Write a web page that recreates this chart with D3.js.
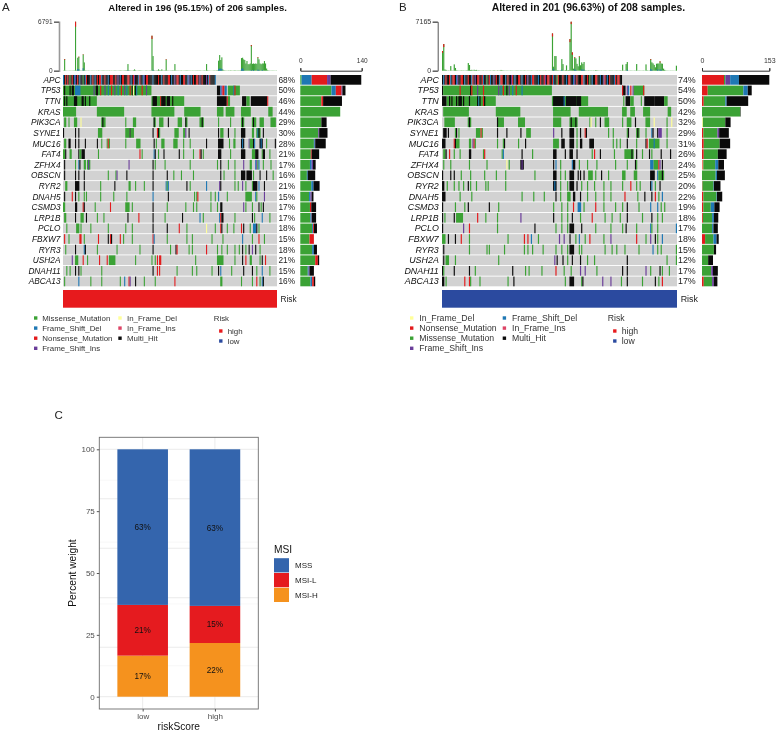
<!DOCTYPE html>
<html>
<head>
<meta charset="utf-8">
<script src="https://cdn.jsdelivr.net/npm/d3@7/dist/d3.min.js"></script>
<style>
  html, body { margin: 0; padding: 0; background: #fff; }
  svg { display: block; font-family: "Liberation Sans", Arial, sans-serif; filter: blur(0.35px); }
</style>
</head>
<body>
<div id="chart"></div>
<script>
// Gene rows, same order in both oncoplots
const genes = ["APC", "TP53", "TTN", "KRAS", "PIK3CA", "SYNE1", "MUC16", "FAT4", "ZFHX4", "OBSCN",
               "RYR2", "DNAH5", "CSMD3", "LRP1B", "PCLO", "FBXW7", "RYR3", "USH2A", "DNAH11", "ABCA13"];

const pctA = [68, 50, 46, 44, 29, 30, 28, 21, 17, 16, 21, 15, 17, 17, 18, 15, 18, 21, 15, 16];
const pctB = [74, 54, 50, 42, 32, 29, 31, 26, 24, 25, 20, 22, 19, 18, 17, 18, 15, 12, 17, 17];

// Mutation burden per sample (top bars)
const topA = [
  30, 1620, 40, 20, 15, 25, 30, 20, 25, 30, 40, 6791, 60, 1800, 1940, 50, 30, 40, 2260, 1150,
  40, 30, 25, 35, 20, 15, 30, 20, 25, 15, 30, 20, 40, 25, 20, 30, 35, 40, 25, 30,
  30, 25, 35, 20, 30, 15, 25, 40, 30, 20, 25, 30, 45, 35, 25, 30, 40, 50, 60, 920,
  60, 40, 30, 25, 60, 180, 60, 25, 30, 45, 50, 35, 25, 20, 15, 30, 35, 25, 20, 30,
  40, 4850, 2030, 60, 30, 40, 45, 185, 60, 50, 180, 40, 30, 60, 1570, 40, 30, 20, 30, 35,
  50, 40, 920, 40, 30, 35, 25, 30, 40, 20, 25, 30, 40, 50, 35, 25, 30, 20, 30, 25,
  25, 30, 35, 40, 30, 45, 25, 20, 30, 40, 30, 920, 60, 30, 25, 20, 15, 30, 40, 25,
  50, 60, 1390, 2170, 1480, 1850, 150, 60, 40, 30, 25, 40, 30, 50, 35, 25, 40, 60, 30, 35,
  40, 35, 50, 1750, 1800, 1570, 1480, 1000, 1340, 900, 900, 1000, 3550, 950, 1000, 950, 1000, 950, 1850, 1570,
  1000, 900, 1000, 1000, 1340, 1000, 300, 80, 40, 30, 20, 35, 30, 25, 20, 30
];
const topB = [
  2870, 3900, 180, 120, 30, 40, 25, 680, 40, 30, 925, 400, 60, 40, 25, 30, 50, 35, 40, 25,
  40, 60, 1120, 830, 100, 130, 60, 140, 90, 120, 40, 60, 30, 25, 30, 40, 20, 35, 30, 25,
  30, 40, 20, 35, 60, 30, 25, 50, 30, 40, 110, 60, 40, 30, 25, 35, 30, 20, 40, 30,
  30, 20, 25, 40, 35, 30, 20, 45, 25, 30, 40, 30, 20, 35, 25, 30, 40, 30, 20, 25,
  30, 40, 25, 35, 30, 20, 30, 25, 40, 30, 20, 35, 25, 30, 5450, 585, 2140, 2140, 80, 60,
  40, 60, 1700, 970, 40, 80, 780, 60, 100, 4630, 7165, 2680, 300, 1950, 1800, 1000, 650, 2090, 800, 1220,
  1000, 1270, 60, 40, 30, 60, 30, 50, 25, 40, 30, 90, 60, 40, 30, 25, 35, 20, 30, 40,
  30, 20, 25, 40, 30, 35, 20, 25, 30, 40, 30, 25, 50, 30, 880, 30, 40, 970, 1270, 30,
  25, 40, 30, 20, 35, 30, 970, 25, 40, 30, 25, 30, 40, 20, 925, 60, 30, 40, 1700, 1220,
  1070, 850, 500, 1020, 1050, 1050, 1360, 1050, 1020, 300, 120, 40, 30, 25, 20, 30, 25, 30, 20, 25, 730
];
// [sample, count] parts of the top bars that are not missense
const topNonsenseA = [[1, 100], [11, 700], [14, 80], [18, 60], [81, 460], [94, 80], [172, 150], [178, 90]];
const topFrameDelA = [[13, 250], [14, 200], [18, 350], [59, 80], [82, 120], [142, 200], [143, 300], [144, 300], [145, 250], [163, 200], [164, 350], [165, 150], [172, 100], [174, 120], [178, 150], [179, 120], [182, 120]];
const topNonsenseB = [[0, 250], [1, 450], [94, 450], [109, 450], [110, 350], [111, 350], [113, 100], [117, 80], [178, 100], [186, 150]];
const topFrameDelB = [[95, 300], [102, 150], [113, 200], [114, 120], [119, 200], [120, 150], [121, 150], [158, 150], [178, 250], [179, 150], [184, 200], [186, 200], [187, 150]];

// APC cell per sample, one letter each: M missense, D frame shift del, N nonsense, F frame shift ins, H multi hit
const apcA = "DHNHNHMHNHDFHNHDHHMHDNHHHDHNHDHNHNNDHHNHHDHNNNHHNHFHDHNNHHHNNHDHNFHHHDNHHDFHNNHH" +
             "HHDHHHHNHHDHNHHHNNHDHHFHNNHDHHNNHHDFHDHNHHNNHFHNHHHFHDNHHHHD";
const apcB = "HDHNHHNDHNNHDFHHNNHDHHNHHDNHFHNNHHNDHHMHNDHHFHNHHDNNHHDHNHHFNHDHHNNHDHHNHFHHDNNH" +
             "HHDHNHHNFHNNHHNDHHMNHHHNHHDHNNHHDFHNHHHNNDHHNHMHDHHNNHHDHHFNHDHNHHHDNHNNHH";

// Other genes: runs of samples "<type><first>[-<last>]", later runs paint over earlier ones. I = in frame del
const runsA = [
  "",
  "M0-80 H1 H6 H8-9 D11-15 F28 H30-31 N34 F38 D41 N44 F47 D50 N53 F56 D58 N61 H63 I64 H66 D67 N72 F76 H141-143 D144 F145 N146-147 D148-149 M151-161 D156 N157",
  "M0-30 H1 H3 H10-12 H17-18 H20 H24 M81-110 H82-85 N89 H90-93 H95-97 H100 H141-149 N150 M151-152 H164-167 M168-170 H172-186 N187",
  "M0-11 M31-55 M81-101 M111-125 M141-146 M149-156 M163-171 M188-191",
  "M1-2 M5 M10-12 I16 M35-38 H36 M57 M64-66 M83-84 H83 M88-91 H96 M105-108 M112-113 H112 M125-128 H127 M142 M153 M163-165 H164 M173-176 H174 M180-183 M190-194",
  "H0 H11 H14 M32-35 M57-60 H61 M62-64 H82 N86 H87 M88 M102-105 M110-111 F112 H115 H142 M144-146 H151 M157 H163-166 M173-174 M177-180 D178 H179 H183",
  "M1-2 H5-6 H11 H14 H20 H31 M35 M40 N41 M42 M57 M67-70 H83 M85 M90-92 M101-104 M110 M116 H131 H142-146 M152 M156-157 H163-165 D164 F170 M171-173 H174 D175 H180-182 D181 M186 H194",
  "M0-1 H2 M6-7 H14 M15-16 H17-19 M32 N70 M72 D83 H84 M87 H92 H106 M110 M119 N125 H126 M128 H142-144 M153 H163-166 M173-175 H176-178 M182 H183-184 M189",
  "H1 M11 D14 H15 M19-20 M22-24 F23 F60 H82 M84 M93 M116 M141 H144 M151 M157 F165 M171-172 D176 F177 M178 D179 M183 M190",
  "H1 H11 H14 H19 M41 M48 F49 H58 H82 H95 M101 M108 M119 H144 M147 M157 H163-166 H168-172 M174 H180 H186 M192",
  "M2-3 H11-14 H19 M34 H47 M60-61 M66 M74 H82 D94 M95 D96 H113 M116 D131 F143 H144 M157 M160 F164 M167 M173 H174-177 D179 H184",
  "H1 N8 H11 M14 M19 M21 M34 M46 M58 D82 H96 M120 M122 N123 M135 M139 D142 M150 M167-172 D176 M177 F184",
  "M0-1 H11-12 N18 H19 M29 N43 M57-60 M63 H82 M95 M112 M119 M122 M135 M141 H144-145 F165 M167 M173 H179 M181 H183",
  "M1-2 H11 M16-18 H21 M31 M37 H59 N69 H82 M93 H109 D125 M128 D143 N144 H145-146 M157 H173 M175 D182 M189",
  "M3 M12-14 M16 M25 M41 M57 M63 H82 H95 N106 M113 I131 M139 N144 H145 M150 M156 N163 H165 M171 D174-176 H177 M179",
  "N1 M5 N15-16 M19 N32 H41 N43 H44 N52 M55 M63 N82 D83 M95 M113 M118 M136 M146 D164 M173 N179 M184",
  "M2 H11 D19 H20 M31 M49 M70 H82 M98 H103 N104 M115 M118 N131 M141 M145 M150 M157 M161 H164 M167 H170 F173 H176 M180",
  "F8 M11-13 N18 M22 N33 N40 M42-47 M66 M81 M84 N86 N88-89 M121 M141-146 M157 H164 N167 M171-172 M180 H182 N185",
  "M3 M6 H11 H14 M16 M35 H82 N86 N88 M104 M118 M122 M136 H142 D144 M154 H165 H173 M177 D182 M189",
  "M1 D14 M25 M35 M52 D56 N60 F61 H66 M74 M84 N102 M144-145 M163 M173 N177 M180 D182 H183"
];
const runsB = [
  "",
  "H0 M1-93 N15 H24 N25 F30 N35 F48 D50 N52 H55 F57 D60 N63 D68 H154-156 N154 F158 D159 N161 F163 M164-172 N172",
  "H0-3 M4-45 H6 H8 H12 H14-16 H18 H23 H30 D31 H32 N35 H36 M94-124 H95-104 D104 H106-114 H115-118 M155 H157-160 M161-163 M170 H173-181 H182-189 M190-192",
  "M1-22 M46-66 M95-109 M117-141 M154-157 M161-164 M172-177 M193-195",
  "M2-10 M22-24 H23 M47-52 H47 M65-70 M95-101 M109-115 H110 H114 M126 I127 M131 H135 M139-142 M154 M158-161 H165 M174-177 I181 M192 I196",
  "H1-3 H5 M11 H12 M14 M29-32 N33 M34 H47 H55 H67 M72-75 F95 H102 H109-112 M115 H118 N122 H123 M142 M146 M158 H159 M166-168 H167 M174 D179 H180 H184 F185-187 M192",
  "H0-2 N10 H11 M12-14 M23-24 F26 N27 M28 M47 M52 H53 M65 H71 M95-99 H102-104 H109-112 M115 H118-119 H126-129 M146 M149 M152 H158 M166 H174 N175 M177-185 D181 M192",
  "M1-2 H3 N6 M10 M15 H23-24 M35 N36 M51 D52 H68 M77 H95-97 H105 H109-111 H115 M128 N130 H135 M147 M156-163 H162 H166 M171 H177 M179 H187 H195",
  "M1 M7 M23 M38 I55 M57 H67-69 F68 H95 D97 M101 D111 H112-113 M117 M124 M132 M148 M158 H165 M166 D178-180 M181-184 N185 F186 H188",
  "H0 H7 H10 M16 M24 M36 M46 M54 M79 H95-97 M101 M105 H109-112 H116 H118 H121 M125-128 M131 H136 M142 M154-156 M164-166 H178-181 D184 M185-189 H188",
  "H0-1 M4 M10 M14 M18 H22 M24 M29 M37 M39 M54 H95-97 D96 M101 M107 H109-112 H115 M119 M124 M130 M138 M144 M154 N161 M166 M169 H178 D179 M182 H186",
  "H0-2 M15 M25 M68 M78 M87 H97 M101 M107-109 H112-113 H118 M124 M131 M138 M144 N156 M167 H173 H179 N182 M185 D188",
  "H0 M11 M19 H22 H40 M48 M95 M102 M107 N112 D116-118 M121 N131 M138 M148 M154 H158 M168 D178 D184 M187 M190",
  "H0 M2 H10 M12-17 N30 M37 M47 F67 H95 M102 M107 H111 M118 N128 M139 M145 M152 H158 M171 H179 M184 M188",
  "H0 F18 N23 M47 H79 M97 M102 M107 H109-112 H119 M131 M144 M154 H157 M166 D178 M179 M184 D200",
  "M0-2 H5 H11 N16 M23 M56 N70 N73 D76 M82 F100 F104 H109 M114 D117 M122 N126 M138 F144 N166 M174 F178 H182 M184 D188",
  "H1 M23 M38 M40 M53 M70 M73 M77 M86 M97 M102 M107 H109-112 M117 M119 M139 M145 M149 M156 M168 D180 M184 M187 M200",
  "H1 M3-5 M11 M48 F96 H98 H103 M107 H111 H118 M124 M130 H158 M192 M200",
  "H0 M1 H10 H23 M28 H60 M71 M74 M85 N97 M104 M110 F118 F122 M132 H154 H158 F174 M178 H186 M188 M194",
  "H0-1 M3 N19 N23 M24 M32 M56 H61 M105 H109-112 M119 H120 F137 F144 M153 H158 M171 H182 M185 N188"
];

// Side bars: samples per gene and type
const sideAM = [3, 71, 48, 91, 48, 41, 31, 24, 22, 15, 25, 20, 22, 23, 27, 21, 27, 34, 17, 23];
const sideAD = [23, 10, 0, 0, 0, 0, 2, 0, 4, 2, 5, 3, 0, 2, 2, 0, 4, 0, 2, 4];
const sideAN = [35, 13, 4, 0, 0, 0, 0, 2, 0, 0, 0, 0, 3, 0, 2, 10, 0, 6, 0, 4];
const sideAF = [8, 2, 0, 0, 0, 2, 1, 0, 3, 0, 0, 3, 0, 1, 0, 0, 0, 0, 2, 0];
const sideAH = [70, 7, 43, 0, 12, 19, 24, 17, 6, 17, 14, 4, 11, 10, 7, 0, 7, 3, 10, 3];

const sideBI = [0, 0, 0, 0, 2, 0, 0, 0, 1, 0, 0, 0, 0, 0, 0, 0, 0, 0, 0, 0];
const sideBN = [50, 13, 4, 0, 0, 3, 4, 4, 2, 0, 1, 3, 3, 2, 0, 7, 0, 0, 0, 4];
const sideBM = [3, 81, 49, 87, 51, 32, 36, 32, 27, 31, 25, 30, 17, 21, 23, 19, 27, 14, 21, 19];
const sideBF = [11, 0, 0, 0, 0, 4, 0, 0, 0, 0, 0, 0, 0, 0, 0, 0, 0, 0, 4, 4];
const sideBD = [20, 10, 3, 0, 0, 0, 0, 0, 7, 3, 1, 1, 8, 4, 3, 7, 0, 0, 0, 0];
const sideBH = [69, 9, 49, 1, 12, 22, 24, 20, 13, 18, 15, 12, 12, 10, 10, 5, 5, 11, 11, 8];

// Panel C
const riskGroups = ["low", "high"];
const msiLevels = ["MSI-H", "MSI-L", "MSS"];
const msiH = [16.6, 21.7];
const msiL = [20.5, 15.0];
const mss = [62.9, 63.3];
const msiLabelsH = ["17%", "22%"];
const msiLabelsL = ["21%", "15%"];
const msiLabelsS = ["63%", "63%"];

const typeColor = { M: "#3ba235", D: "#1f78b4", N: "#e31a1c", F: "#6a3d9a", I: "#ffff99", J: "#dd4466", H: "#0a0a0a" };
const cellGray = "#d2d2d2";
const riskHigh = "#e71a1d";
const riskLow = "#2b4a9f";
const msiColor = { "MSS": "#3465ad", "MSI-L": "#e51b1f", "MSI-H": "#f5921e" };

const svg = d3.select("#chart").append("svg")
  .attr("width", 777)
  .attr("height", 731);

// the source figure is a soft raster, the thin cells need this to read the same
svg.append("defs").append("filter")
  .attr("id", "soft")
  .attr("filterUnits", "userSpaceOnUse")
  .attr("x", 0).attr("y", 0).attr("width", 777).attr("height", 731)
  .append("feGaussianBlur").attr("stdDeviation", 0.45);

function parseRuns(str) {
  return str.split(" ").filter(s => s).map(tok => {
    const m = tok.match(/^([A-Z])(\d+)(?:-(\d+))?$/);
    return { type: m[1], first: +m[2], last: m[3] ? +m[3] : +m[2] };
  });
}

// One oncoplot: top bars, cell matrix, side bars, risk strip and legends
function drawOncoplot(p) {
  const g = svg.append("g");
  const fs = p.fontSize;

  g.append("text").attr("x", p.letterX).attr("y", 11).style("font-size", "11.5px").attr("fill", "#222").text(p.letter);
  g.append("text").attr("x", p.titleX).attr("y", 11).style("font-size", p.titleSize + "px")
    .style("font-weight", "bold").attr("fill", "#111").text(p.title);

  const x = d3.scaleLinear().domain([0, p.top.length]).range([p.left, p.right]);
  const y = d3.scaleBand().domain(genes).range([75, 286.3]).paddingInner(0.085);

  // top bars
  const yTop = d3.scaleLinear().domain([0, p.topMax]).range([70.7, 21.7]);
  const nonsense = new Map(p.topN);
  const frameDel = new Map(p.topD);
  const bars = g.append("g").attr("filter", "url(#soft)");
  p.top.forEach((total, i) => {
    const d = frameDel.get(i) || 0;
    const n = nonsense.get(i) || 0;
    bars.append("rect").attr("x", x(i)).attr("width", x(i + 1) - x(i))
      .attr("y", yTop(total)).attr("height", yTop(0) - yTop(total)).attr("fill", typeColor.M);
    if (n) {
      bars.append("rect").attr("x", x(i)).attr("width", x(i + 1) - x(i))
        .attr("y", yTop(total)).attr("height", yTop(0) - yTop(n)).attr("fill", typeColor.N);
    }
    if (d) {
      bars.append("rect").attr("x", x(i)).attr("width", x(i + 1) - x(i))
        .attr("y", yTop(d)).attr("height", yTop(0) - yTop(d)).attr("fill", typeColor.D);
    }
  });

  const topAxis = g.append("g")
    .attr("transform", `translate(${p.topAxisX},0)`)
    .call(d3.axisLeft(yTop).tickValues([0, p.topMax]).tickFormat(d3.format("d")).tickSize(5).tickPadding(1.5));
  topAxis.selectAll("text").style("font-size", p.axisFont + "px").style("font-family", "inherit").attr("fill", "#333");
  topAxis.selectAll("line").attr("stroke", "#555");
  topAxis.select(".domain").attr("stroke", p.topAxisColor).attr("stroke-width", p.topAxisWidth);

  // matrix
  const matrix = g.append("g").attr("filter", "url(#soft)");
  genes.forEach((gene, r) => {
    matrix.append("rect").attr("x", x(0)).attr("width", x(p.top.length) - x(0))
      .attr("y", y(gene)).attr("height", y.bandwidth()).attr("fill", cellGray);
    if (r === 0) {
      Array.from(p.apc).forEach((type, i) => {
        matrix.append("rect").attr("x", x(i)).attr("width", x(i + 1) - x(i))
          .attr("y", y(gene)).attr("height", y.bandwidth()).attr("fill", typeColor[type]);
      });
    }
    parseRuns(p.runs[r]).forEach(run => {
      matrix.append("rect").attr("x", x(run.first)).attr("width", x(run.last + 1) - x(run.first))
        .attr("y", y(gene)).attr("height", y.bandwidth()).attr("fill", typeColor[run.type]);
    });
    g.append("text").attr("x", p.geneX).attr("y", y(gene) + y.bandwidth() / 2 + 3)
      .attr("text-anchor", "end").style("font-size", fs + "px").style("font-style", "italic")
      .attr("fill", "#111").text(gene);
    g.append("text").attr("x", p.pctX).attr("y", y(gene) + y.bandwidth() / 2 + 3)
      .style("font-size", fs + "px").attr("fill", "#222").text(p.pct[r] + "%");
  });

  // side bars
  const xSide = d3.scaleLinear().domain([0, p.sideMax]).range(p.sideRange);
  genes.forEach((gene, r) => {
    let acc = 0;
    p.side.forEach(s => {
      const v = s.values[r];
      if (v > 0) {
        g.append("rect").attr("x", xSide(acc)).attr("width", xSide(acc + v) - xSide(acc))
          .attr("y", y(gene)).attr("height", y.bandwidth()).attr("fill", typeColor[s.type]);
      }
      acc += v;
    });
  });
  const sideAxis = g.append("g")
    .attr("transform", "translate(0,70.7)")
    .call(d3.axisTop(xSide).tickValues([0, p.sideMax]).tickSize(2.5).tickPadding(5));
  sideAxis.selectAll("text").style("font-size", p.axisFont + "px").style("font-family", "inherit").attr("fill", "#333");
  sideAxis.selectAll("line").attr("stroke", "#333");
  sideAxis.select(".domain").attr("stroke", "#333");

  // risk strip
  g.append("rect").attr("x", x(0)).attr("width", x(p.top.length) - x(0)).attr("y", 290).attr("height", 17.7).attr("fill", p.riskColor);
  g.append("text").attr("x", p.riskX).attr("y", 302).style("font-size", fs + "px").attr("fill", "#222").text("Risk");

  // legends
  const legendY = d3.scalePoint().domain([0, 1, 2, 3]).range([318, 348.3]);
  p.legendCols.forEach(col => {
    col.items.forEach((item, i) => {
      g.append("rect").attr("x", col.keyX).attr("y", legendY(i) - 1.7).attr("width", 3.4).attr("height", 3.4).attr("fill", typeColor[item.type]);
      g.append("text").attr("x", col.textX).attr("y", legendY(i) + 3).style("font-size", p.legendFont + "px").attr("fill", "#333").text(item.label);
    });
  });
  g.append("text").attr("x", p.riskLegendX).attr("y", 321).style("font-size", p.legendFont + "px").attr("fill", "#333").text("Risk");
  [["high", riskHigh, 331], ["low", riskLow, 341]].forEach(k => {
    g.append("rect").attr("x", p.riskLegendX + 5.4).attr("y", k[2] - 1.7).attr("width", 3.4).attr("height", 3.4).attr("fill", k[1]);
    g.append("text").attr("x", p.riskLegendX + 14).attr("y", k[2] + 3).style("font-size", p.legendFont + "px").attr("fill", "#333").text(k[0]);
  });
}

const lab = { M: "Missense_Mutation", D: "Frame_Shift_Del", N: "Nonsense_Mutation", F: "Frame_Shift_Ins", I: "In_Frame_Del", J: "In_Frame_Ins", H: "Multi_Hit" };
const legendItem = t => ({ type: t, label: lab[t] });

drawOncoplot({
  letter: "A", letterX: 2, title: "Altered in 196 (95.15%) of 206 samples.", titleX: 108.3, titleSize: 9.6,
  fontSize: 8.3, legendFont: 7.9, axisFont: 6.5,
  top: topA, topMax: 6791, topN: topNonsenseA, topD: topFrameDelA, topAxisX: 59, topAxisColor: "#999", topAxisWidth: 1.6,
  left: 63, right: 277, apc: apcA, runs: runsA, pct: pctA, geneX: 60.5, pctX: 278.5,
  sideMax: 140, sideRange: [300.3, 361.7],
  side: [{ type: "M", values: sideAM }, { type: "D", values: sideAD }, { type: "N", values: sideAN }, { type: "F", values: sideAF }, { type: "H", values: sideAH }],
  riskColor: riskHigh, riskX: 280.5, riskLegendX: 213.7,
  legendCols: [
    { keyX: 34, textX: 42.3, items: ["M", "D", "N", "F"].map(legendItem) },
    { keyX: 118.3, textX: 127, items: ["I", "J", "H"].map(legendItem) }
  ]
});

drawOncoplot({
  letter: "B", letterX: 399, title: "Altered in 201 (96.63%) of 208 samples.", titleX: 491.7, titleSize: 10.4,
  fontSize: 8.9, legendFont: 8.7, axisFont: 7,
  top: topB, topMax: 7165, topN: topNonsenseB, topD: topFrameDelB, topAxisX: 437.7, topAxisColor: "#555", topAxisWidth: 1,
  left: 442, right: 677, apc: apcB, runs: runsB, pct: pctB, geneX: 438.8, pctX: 678,
  sideMax: 153, sideRange: [702, 769.3],
  side: [{ type: "I", values: sideBI }, { type: "N", values: sideBN }, { type: "M", values: sideBM }, { type: "F", values: sideBF }, { type: "D", values: sideBD }, { type: "H", values: sideBH }],
  riskColor: riskLow, riskX: 680.7, riskLegendX: 607.7,
  legendCols: [
    { keyX: 410, textX: 419.3, items: ["I", "N", "M", "F"].map(legendItem) },
    { keyX: 502.7, textX: 512, items: ["D", "J", "H"].map(legendItem) }
  ]
});

// Panel C: stacked bars
function drawStacked() {
  const g = svg.append("g");
  g.append("text").attr("x", 54.5).attr("y", 419).style("font-size", "11.5px").attr("fill", "#222").text("C");

  const panel = { left: 99.3, right: 258.3, top: 437.3, bottom: 709 };
  const x = d3.scalePoint().domain(riskGroups).range([panel.left, panel.right]).padding(0.6);
  const y = d3.scaleLinear().domain([0, 100]).range([696.7, 449.3]);
  const barWidth = x.step() * 0.7;

  // grid
  [12.5, 37.5, 62.5, 87.5].forEach(v => {
    g.append("line").attr("x1", panel.left).attr("x2", panel.right).attr("y1", y(v)).attr("y2", y(v)).attr("stroke", "#f1f1f1").attr("stroke-width", 0.6);
  });
  y.ticks(4).forEach(v => {
    g.append("line").attr("x1", panel.left).attr("x2", panel.right).attr("y1", y(v)).attr("y2", y(v)).attr("stroke", "#ebebeb");
  });
  riskGroups.forEach(k => {
    g.append("line").attr("x1", x(k)).attr("x2", x(k)).attr("y1", panel.top).attr("y2", panel.bottom).attr("stroke", "#ebebeb");
  });

  // bars
  const parts = [
    { name: "MSI-H", values: msiH, labels: msiLabelsH },
    { name: "MSI-L", values: msiL, labels: msiLabelsL },
    { name: "MSS", values: mss, labels: msiLabelsS }
  ];
  riskGroups.forEach((k, i) => {
    let acc = 0;
    parts.forEach(part => {
      const v = part.values[i];
      g.append("rect").attr("x", x(k) - barWidth / 2).attr("width", barWidth)
        .attr("y", y(acc + v)).attr("height", y(acc) - y(acc + v)).attr("fill", msiColor[part.name]);
      g.append("text").attr("x", x(k)).attr("y", y(acc + v / 2) + 3).attr("text-anchor", "middle")
        .style("font-size", "8.2px").attr("fill", "#111").text(part.labels[i]);
      acc += v;
    });
  });

  g.append("rect").attr("x", panel.left).attr("y", panel.top).attr("width", panel.right - panel.left).attr("height", panel.bottom - panel.top)
    .attr("fill", "none").attr("stroke", "#6e6e6e").attr("stroke-width", 0.9);

  const yAxis = g.append("g").attr("transform", `translate(${panel.left},0)`)
    .call(d3.axisLeft(y).tickValues([0, 25, 50, 75, 100]).tickSize(2.5).tickPadding(2));
  const xAxis = g.append("g").attr("transform", `translate(0,${panel.bottom})`)
    .call(d3.axisBottom(x).tickSize(2.5).tickPadding(2));
  [yAxis, xAxis].forEach(a => {
    a.select(".domain").remove();
    a.selectAll("text").style("font-size", "8px").style("font-family", "inherit").attr("fill", "#4d4d4d");
    a.selectAll("line").attr("stroke", "#555");
  });

  g.append("text").attr("x", (panel.left + panel.right) / 2).attr("y", 730).attr("text-anchor", "middle")
    .style("font-size", "10.2px").attr("fill", "#111").text("riskScore");
  g.append("text").attr("transform", "translate(76,573) rotate(-90)").attr("text-anchor", "middle")
    .style("font-size", "10.2px").attr("fill", "#111").text("Percent weight");

  // legend
  g.append("text").attr("x", 274).attr("y", 552.5).style("font-size", "10.2px").attr("fill", "#111").text("MSI");
  const keyY = d3.scaleBand().domain(msiLevels.slice().reverse()).range([558.2, 602]).paddingInner(0.04);
  msiLevels.slice().reverse().forEach(level => {
    g.append("rect").attr("x", 274).attr("width", 15).attr("y", keyY(level)).attr("height", keyY.bandwidth()).attr("fill", msiColor[level]);
    g.append("text").attr("x", 295).attr("y", keyY(level) + keyY.bandwidth() / 2 + 3).style("font-size", "8px").attr("fill", "#222").text(level);
  });
}
drawStacked();
</script>
</body>
</html>
